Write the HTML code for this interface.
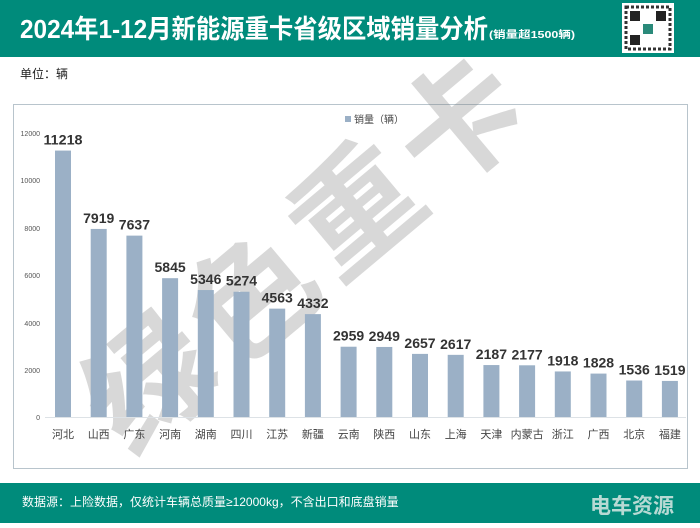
<!DOCTYPE html>
<html><head><meta charset="utf-8"><style>
body{margin:0;width:700px;height:523px;background:#fff;overflow:hidden;font-family:"Liberation Sans","Noto Sans CJK SC",sans-serif;}
</style></head><body>
<svg width="700" height="523" xmlns="http://www.w3.org/2000/svg" font-family="Liberation Sans, Noto Sans CJK SC, sans-serif">
<rect x="0" y="0" width="700" height="57" fill="#008b7b"/>
<text x="20" y="38" font-size="26" font-weight="bold" fill="#fff" textLength="468" lengthAdjust="spacingAndGlyphs">2024年1-12月新能源重卡省级区域销量分析</text>
<text x="489" y="38" font-size="10" font-weight="bold" fill="#fff" textLength="86" lengthAdjust="spacingAndGlyphs">(销量超1500辆)</text>
<rect x="622" y="3" width="52" height="50" fill="#fff"/>
<rect x="626" y="7" width="44" height="42" fill="none" stroke="#333" stroke-width="3" stroke-dasharray="3 2"/>
<rect x="630" y="11" width="10" height="10" fill="#222"/><rect x="656" y="11" width="10" height="10" fill="#222"/><rect x="630" y="35" width="10" height="10" fill="#222"/>
<rect x="643" y="24" width="10" height="10" fill="#2a8a7a"/>
<text x="20" y="78" font-size="12" fill="#222">单位：辆</text>
<rect x="13.5" y="104.5" width="674" height="364" fill="#fff" stroke="#b8c4cc"/>
<g transform="translate(130,458) rotate(-40)" opacity="0.28"><text x="0" y="0" font-size="125" font-weight="bold" fill="#777" font-family="Noto Sans CJK SC, sans-serif" textLength="530" lengthAdjust="spacing">绿色重卡</text></g>
<rect x="345" y="116" width="6" height="6" fill="#9bb0c6"/>
<text x="354" y="123" font-size="10" fill="#444">销量（辆）</text>
<g font-size="7" fill="#555" text-anchor="end">
<text x="40" y="136">12000</text><text x="40" y="183">10000</text><text x="40" y="231">8000</text><text x="40" y="278">6000</text><text x="40" y="326">4000</text><text x="40" y="373">2000</text><text x="40" y="420">0</text>
</g>
<line x1="45" y1="417.5" x2="686" y2="417.5" stroke="#dde2e6"/>
<g id="bars"></g>
<rect x="0" y="483" width="700" height="40" fill="#008b7b"/>
<text x="22" y="506" font-size="12" fill="#fff">数据源：上险数据，仅统计车辆总质量≥12000kg，不含出口和底盘销量</text>
<text x="590" y="513" font-size="21" font-weight="bold" fill="#d8e8e4" opacity="0.85">电车资源</text>
</svg>
<script>
var names=["河北","山西","广东","河南","湖南","四川","江苏","新疆","云南","陕西","山东","上海","天津","内蒙古","浙江","广西","北京","福建"];
var vals=[11218,7919,7637,5845,5346,5274,4563,4332,2959,2949,2657,2617,2187,2177,1918,1828,1536,1519];
var g=document.getElementById("bars"),h="";
for(var i=0;i<18;i++){var cx=63+i*35.7,t=417-vals[i]*0.02375,s=String(vals[i]);
h+='<rect x="'+(cx-8)+'" y="'+t+'" width="16" height="'+(417-t)+'" fill="#9bb0c6"/>';
h+='<text x="'+cx+'" y="'+(t-6)+'" font-size="14" font-weight="bold" fill="#333" text-anchor="middle" textLength="'+(s.length*7.8)+'" lengthAdjust="spacingAndGlyphs">'+s+'</text>';
h+='<text x="'+cx+'" y="438" font-size="11" fill="#444" text-anchor="middle">'+names[i]+'</text>';}
g.innerHTML=h;
</script>
</body></html>
